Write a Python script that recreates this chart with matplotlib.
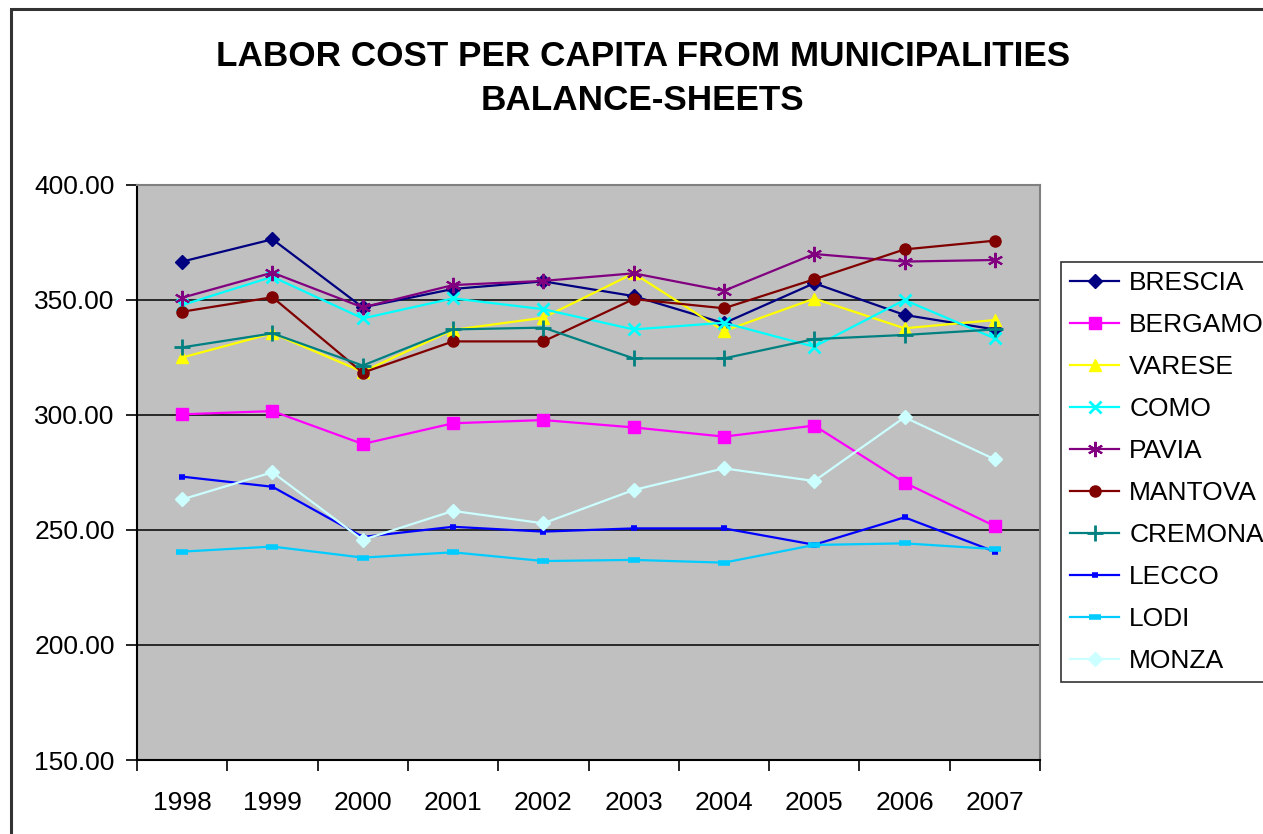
import numpy as np
import matplotlib
matplotlib.use('Agg')
import matplotlib.pyplot as plt
from matplotlib.patches import Rectangle
from matplotlib.ticker import FixedLocator, FuncFormatter

plt.rcParams['font.family'] = ['Liberation Sans', 'DejaVu Sans']

years = ['1998', '1999', '2000', '2001', '2002', '2003', '2004', '2005', '2006', '2007']

brescia = [366.7, 376.4, 346.8, 354.8, 358.1, 351.7, 339.9, 357.3, 343.5, 337.2]
bergamo = [300.3, 301.7, 287.4, 296.4, 297.8, 294.6, 290.6, 295.4, 270.6, 251.7]
varese = [325.0, 335.5, 318.8, 337.0, 342.3, 361.6, 336.5, 350.6, 337.7, 341.3]
como = [347.8, 360.1, 342.0, 350.7, 346.0, 337.2, 340.1, 329.7, 350.0, 333.3]
pavia = [351.0, 361.9, 346.8, 356.5, 358.3, 361.6, 354.0, 370.0, 366.7, 367.4]
mantova = [344.9, 351.2, 318.4, 332.0, 332.0, 350.4, 346.4, 359.0, 372.0, 375.8]
cremona = [329.4, 335.5, 321.5, 337.2, 338.0, 324.6, 324.6, 333.0, 334.8, 337.2]
lecco = [273.2, 268.8, 247.0, 251.4, 249.3, 250.7, 250.7, 243.6, 255.5, 240.6]
lodi = [240.6, 242.8, 238.0, 240.3, 236.5, 237.0, 235.8, 243.5, 244.2, 241.7]
monza = [263.3, 275.1, 245.7, 258.3, 252.9, 267.4, 276.8, 271.3, 299.0, 280.7]

series = [
    ('BRESCIA', brescia, '#000080', 'D', 7, 1.0),
    ('BERGAMO', bergamo, '#FF00FF', 's', 8, 1.0),
    ('VARESE', varese, '#FFFF00', '^', 9, 1.0),
    ('COMO', como, '#00FFFF', 'x', 9, 2.0),
    ('PAVIA', pavia, '#800080', (6, 2, 0), 11, 1.5),
    ('MANTOVA', mantova, '#800000', 'o', 8, 1.0),
    ('CREMONA', cremona, '#008080', '+', 11, 2.0),
    ('LECCO', lecco, '#0000FF', '_', 5, 4.0),
    ('LODI', lodi, '#00CCFF', '_', 9, 4.0),
    ('MONZA', monza, '#CCFFFF', 'D', 7, 1.0),
]

fig = plt.figure(figsize=(12.63, 8.34), dpi=100)
ax = fig.add_axes([137 / 1263, 1 - 760 / 834, 903 / 1263, 575 / 834])
ax.set_facecolor('#C0C0C0')

x = np.arange(len(years))
for name, vals, col, mk, ms, mew in series:
    ax.plot(x, vals, color=col, lw=1.6, marker=mk, markersize=ms,
            markeredgewidth=mew, markeredgecolor=col, markerfacecolor=col,
            label=name, zorder=3)

ax.set_xlim(-0.5, len(years) - 0.5)
ax.set_ylim(150, 400)
ax.yaxis.set_major_locator(FixedLocator([150, 200, 250, 300, 350, 400]))
ax.yaxis.set_major_formatter(FuncFormatter(lambda v, p: '%.2f' % v))
ax.grid(axis='y', color='black', lw=1.1, zorder=1)
ax.set_axisbelow(True)

ax.set_xticks(x)
ax.set_xticklabels(years)
ax.set_xticks(np.arange(-0.5, len(years)), minor=True)
ax.tick_params(axis='x', which='major', length=0, pad=22, labelsize=19)
ax.tick_params(axis='x', which='minor', length=8, width=1.2, direction='out')
ax.tick_params(axis='y', length=8, width=1.2, direction='out', pad=8, labelsize=19)

for side in ['top', 'right']:
    ax.spines[side].set_color('#808080')
    ax.spines[side].set_linewidth(1.5)
for side in ['left', 'bottom']:
    ax.spines[side].set_color('black')
    ax.spines[side].set_linewidth(1.5)

fig.text(0.509, 1 - 57 / 834, 'LABOR COST PER CAPITA FROM MUNICIPALITIES',
         ha='center', va='center', fontsize=25.3, fontweight='bold')
fig.text(0.509, 1 - 100 / 834, 'BALANCE-SHEETS',
         ha='center', va='center', fontsize=25.3, fontweight='bold')

leg = fig.legend(loc='upper left', bbox_to_anchor=(1061 / 1263, 1 - 262 / 834),
                 fontsize=19, frameon=True, fancybox=False, handlelength=1.86,
                 handletextpad=0.38, labelspacing=0.68, borderpad=0.35,
                 borderaxespad=0)
leg.get_frame().set_edgecolor('black')
leg.get_frame().set_linewidth(1.2)

fig.patches.append(Rectangle((11 / 1263, -0.1), 1.2, 1 - 9 / 834 + 0.1,
                             transform=fig.transFigure, fill=False,
                             edgecolor='#333333', lw=2.2))

fig.savefig('out.png', dpi=100)
